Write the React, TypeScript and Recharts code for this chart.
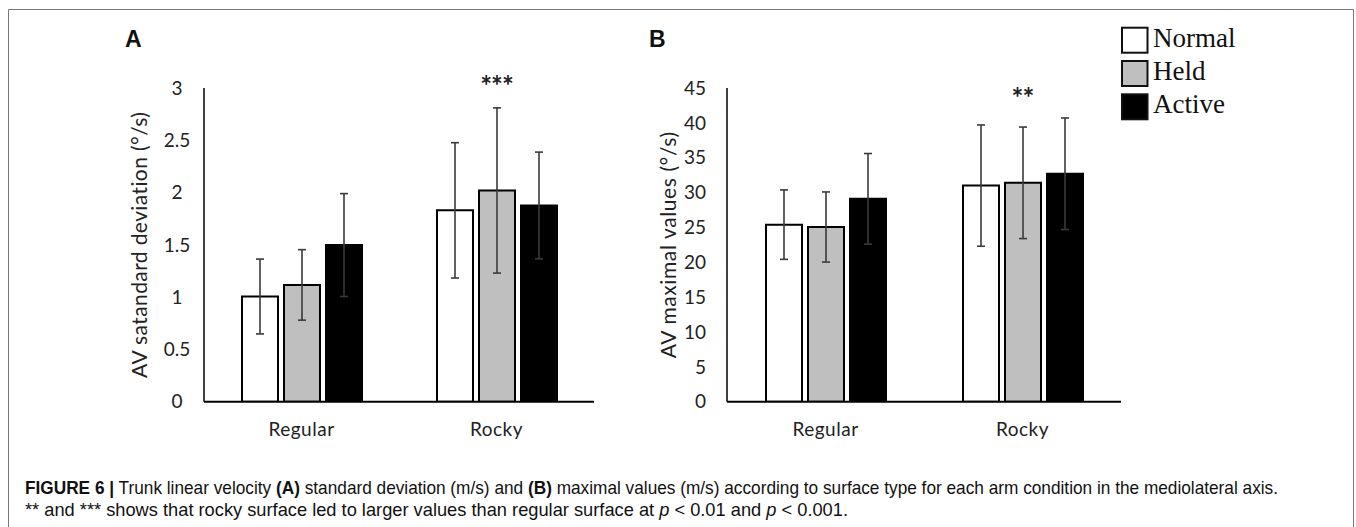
import React, { useLayoutEffect, useRef, useState } from 'react';
import { BarChart, Bar, XAxis, YAxis, ErrorBar, ReferenceDot } from 'recharts';

// ---------- data ----------
const categories = ['Regular', 'Rocky'];
const seriesNames = ['Normal', 'Held', 'Active'];
const seriesKeys = ['normal', 'held', 'active'];
const seriesFills = ['#ffffff', '#bfbfbf', '#000000'];

// Panel A: AV standard deviation (°/s)
const aNormal = [1.006, 1.83];
const aNormalErr = [0.358, 0.647];
const aHeld = [1.117, 2.02];
const aHeldErr = [0.337, 0.79];
const aActive = [1.498, 1.877];
const aActiveErr = [0.492, 0.51];
const aTicks = [0, 0.5, 1, 1.5, 2, 2.5, 3];

// Panel B: AV maximal values (°/s)
const bNormal = [25.4, 31.0];
const bNormalErr = [4.98, 8.7];
const bHeld = [25.06, 31.4];
const bHeldErr = [5.03, 8.0];
const bActive = [29.1, 32.7];
const bActiveErr = [6.5, 8.0];
const bTicks = [0, 5, 10, 15, 20, 25, 30, 35, 40, 45];

const FONT = 'Lato, "Open Sans", sans-serif';
const TEXT = '#222222';

type PanelProps = {
  left: number; width: number; height: number;
  plotLeft: number; plotRight: number; plotTop: number; plotBottom: number;
  values: number[][]; errors: number[][];
  ticks: number[]; domain: [number, number];
  tickAnchor: 'middle' | 'end'; tickOffset: number;
  yLabel: string; labelX: number; labelSpacing: number;
  stars: string; starValue: number;
};

function Panel(p: PanelProps) {
  const data = categories.map((name, i) => {
    const row: any = { name };
    seriesKeys.forEach((k, s) => {
      row[k] = p.values[s][i];
      row[k + 'Err'] = p.errors[s][i];
    });
    return row;
  });
  const yAxisW = 80;
  const xAxisH = 40;
  const mLeft = p.plotLeft - p.left - yAxisW;
  const mRight = p.left + p.width - p.plotRight;
  const mBottom = p.height - p.plotBottom - xAxisH;
  const lx = p.labelX - p.left;
  const ly = (p.plotTop + p.plotBottom) / 2;
  return (
    <div style={{ position: 'absolute', left: p.left, top: 0 }}>
      <BarChart
        width={p.width}
        height={p.height}
        data={data}
        margin={{ top: p.plotTop, right: mRight, left: mLeft, bottom: mBottom }}
        barGap={6}
      >
        <XAxis
          dataKey="name"
          height={xAxisH}
          interval={0}
          axisLine={{ stroke: '#000', strokeWidth: 2 }}
          tickLine={false}
          tickSize={0}
          tickMargin={21}
          tick={{ fontSize: 19, fontFamily: FONT, fill: TEXT, letterSpacing: 0.5 }}
        />
        <YAxis
          width={yAxisW}
          domain={p.domain}
          ticks={p.ticks}
          interval={0}
          allowDataOverflow
          axisLine={{ stroke: '#000', strokeWidth: 1.5 }}
          tickLine={false}
          tickSize={0}
          tickMargin={p.tickOffset}
          tick={{ fontSize: 19, fontFamily: FONT, fill: TEXT, textAnchor: p.tickAnchor }}
          label={{
            content: () => (
              <text
                x={lx}
                y={ly}
                transform={`rotate(-90 ${lx} ${ly})`}
                textAnchor="middle"
                dominantBaseline="central"
                fontSize={21}
                letterSpacing={p.labelSpacing}
                fontFamily={FONT}
                fill={TEXT}
              >
                {p.yLabel}
              </text>
            ),
          }}
        />
        {seriesKeys.map((k, i) => (
          <Bar
            key={k}
            dataKey={k}
            name={seriesNames[i]}
            fill={seriesFills[i]}
            stroke="#000"
            strokeWidth={2}
            barSize={36}
            isAnimationActive={false}
          >
            <ErrorBar dataKey={k + 'Err'} width={4} stroke="#3a3a3a" strokeWidth={1.6} />
          </Bar>
        ))}
        <ReferenceDot
          x="Rocky"
          y={p.starValue}
          r={0}
          ifOverflow="visible"
          fill="none"
          stroke="none"
          label={{
            value: p.stars,
            position: 'center',
            fontSize: 28,
            fontWeight: 700,
            fontFamily: FONT,
            fill: TEXT,
            letterSpacing: -1,
          }}
        />
      </BarChart>
    </div>
  );
}

function FitLine({ left, top, target, children }: { left: number; top: number; target: number; children: React.ReactNode }) {
  const ref = useRef<HTMLSpanElement>(null);
  const [s, setS] = useState(1);
  useLayoutEffect(() => {
    if (ref.current) {
      const w = ref.current.getBoundingClientRect().width;
      if (w > 0) setS(target / w);
    }
  }, [target]);
  return (
    <div
      style={{
        position: 'absolute',
        left,
        top,
        whiteSpace: 'nowrap',
        transformOrigin: '0 0',
        transform: `scaleX(${s})`,
        fontFamily: '"Liberation Sans Narrow", "Liberation Sans", Arial, sans-serif',
        fontSize: 17.7,
        lineHeight: '18px',
        color: '#111',
      }}
    >
      <span ref={ref}>{children}</span>
    </div>
  );
}

export default function App() {
  const legendTop = 27.7;
  const legendStep = 33.3;
  return (
    <div style={{ position: 'absolute', left: 0, top: 0, width: 1356, height: 527, overflow: 'hidden', background: '#fff' }}>
      <Panel
        left={0} width={610} height={460}
        plotLeft={204} plotRight={594} plotTop={88} plotBottom={401.7}
        values={[aNormal, aHeld, aActive]}
        errors={[aNormalErr, aHeldErr, aActiveErr]}
        ticks={aTicks} domain={[0, 3]}
        tickAnchor="middle" tickOffset={27}
        yLabel="AV satandard deviation (°/s)" labelX={139} labelSpacing={0.4}
        stars="***" starValue={3.014}
      />
      <Panel
        left={610} width={530} height={460}
        plotLeft={727} plotRight={1121} plotTop={88} plotBottom={401.7}
        values={[bNormal, bHeld, bActive]}
        errors={[bNormalErr, bHeldErr, bActiveErr]}
        ticks={bTicks} domain={[0, 45]}
        tickAnchor="end" tickOffset={21}
        yLabel="AV maximal values (°/s)" labelX={668} labelSpacing={0.6}
        stars="**" starValue={43.57}
      />
      <svg width={1356} height={527} style={{ position: 'absolute', left: 0, top: 0, pointerEvents: 'none' }}>
        <path d="M8.5 527 V9.5 H1353.5 V527" fill="none" stroke="#777" strokeWidth={1} />
        <text x={125} y={46.7} fontFamily='"Liberation Sans", Arial, sans-serif' fontWeight={700} fontSize={23} fill="#111">A</text>
        <text x={649} y={46.7} fontFamily='"Liberation Sans", Arial, sans-serif' fontWeight={700} fontSize={23} fill="#111">B</text>
        {seriesNames.map((n, i) => (
          <g key={n}>
            <rect x={1122} y={legendTop + i * legendStep} width={25.5} height={25} fill={seriesFills[i]} stroke="#111" strokeWidth={2} />
            <text x={1153} y={46.7 + i * legendStep} fontFamily='"Liberation Serif", "Times New Roman", serif' fontSize={27} fill="#111">{n}</text>
          </g>
        ))}
      </svg>
      <FitLine left={25} top={479} target={1253}>
        <b>FIGURE 6 |</b> Trunk linear velocity <b>(A)</b> standard deviation (m/s) and <b>(B)</b> maximal values (m/s) according to surface type for each arm condition in the mediolateral axis.
      </FitLine>
      <FitLine left={25} top={501} target={823}>
        ** and *** shows that rocky surface led to larger values than regular surface at <i>p</i> &lt; 0.01 and <i>p</i> &lt; 0.001.
      </FitLine>
    </div>
  );
}
